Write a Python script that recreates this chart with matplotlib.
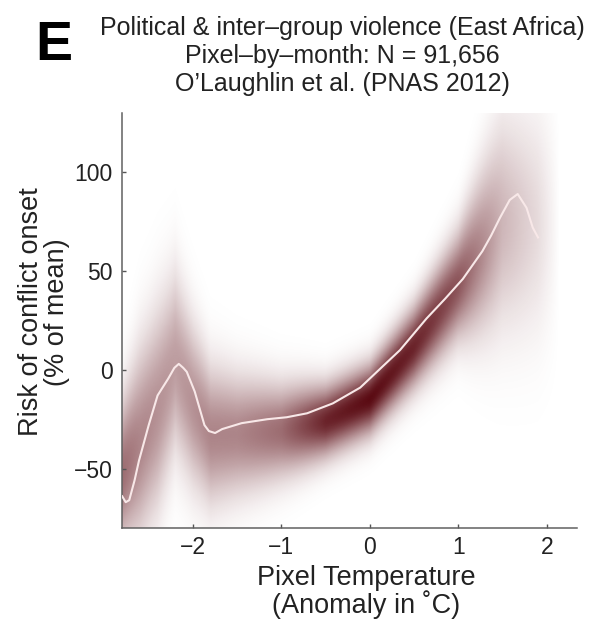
#imports
import numpy as np
import matplotlib
matplotlib.use("Agg")
import matplotlib.pyplot as plt

plt.rcParams['font.family'] = ['Liberation Sans', 'DejaVu Sans']

#data - white regression line
temp = [-2.80, -2.76, -2.72, -2.66, -2.61, -2.50, -2.40, -2.28, -2.21, -2.16,
        -2.11, -2.07, -1.98, -1.87, -1.82, -1.75, -1.67, -1.45, -1.16, -0.94,
        -0.71, -0.42, -0.11, 0.15, 0.34, 0.64, 0.85, 1.05, 1.16, 1.27, 1.37, 1.47, 1.58,
        1.67, 1.77, 1.84, 1.90]
risk = [-64, -67, -66, -56, -46, -28, -13, -4.5, 1, 3,
        1, -1, -11, -28, -31, -32, -30, -27, -25, -24,
        -22, -17, -9, 2, 10, 26, 36, 46, 53, 60, 68, 77, 86,
        89, 82, 72, 67]

#data - watercolor band: lower / upper edge of the shading and its darkness
band_x = [-2.8, -2.6, -2.4, -2.2, -2.0, -1.8, -1.5, -1.0, -0.5, 0.0, 0.5, 1.0, 1.5, 1.9, 2.05, 2.15]
band_lo = [-100, -100, -85, -55, -70, -78, -72, -62, -50, -38, -15, 8, 5, 0, 0, 0]
band_hi = [-5, 25, 45, 62, 35, 12, 6, 0, -2, 8, 38, 78, 145, 150, 150, 150]
band_ink = [0.6, 0.5, 0.45, 0.4, 0.45, 0.5, 0.5, 0.6, 0.9, 1.0, 0.9, 0.7, 0.3, 0.15, 0.06, 0.0]

xticks = [-2, -1, 0, 1, 2]
yticks = [-50, 0, 50, 100]
xlim = (-2.8, 2.34)
ylim = (-80, 130)

#figure
fig = plt.figure(figsize=(5.93, 6.21), dpi=100)
ax = fig.add_axes([0.206, 0.150, 0.767, 0.668])

# shading image built from the band arrays
gx = np.linspace(xlim[0], xlim[1], 700)
gy = np.linspace(ylim[0], ylim[1], 600)
lo = np.interp(gx, band_x, band_lo)
hi = np.interp(gx, band_x, band_hi)
ink = np.interp(gx, band_x, band_ink, right=0.0)
mid = (lo + hi) / 2
sig = (hi - lo) / 4
alpha = ink[None, :] * np.exp(-0.5 * ((gy[:, None] - mid[None, :]) / sig[None, :]) ** 2)
img = np.zeros((len(gy), len(gx), 4))
img[..., 0] = 90 / 255
img[..., 1] = 10 / 255
img[..., 2] = 18 / 255
img[..., 3] = np.clip(alpha, 0, 1)
ax.imshow(img, extent=[xlim[0], xlim[1], ylim[0], ylim[1]], origin='lower',
          aspect='auto', interpolation='bilinear', zorder=1)

ax.plot(temp, risk, color='#f8e8e8', lw=1.5, zorder=3)

ax.set_xlim(*xlim)
ax.set_ylim(*ylim)
ax.set_xticks(xticks)
ax.set_yticks(yticks)
ax.tick_params(direction='in', length=3, width=1, color='#555555',
               labelsize=16.5, labelcolor='#222222')
ax.tick_params(axis='x', pad=6)
ax.tick_params(axis='y', pad=7)
for s in ['top', 'right']:
    ax.spines[s].set_visible(False)
for s in ['left', 'bottom']:
    ax.spines[s].set_color('#606060')
    ax.spines[s].set_linewidth(1.1)

#texts
fig.text(342 / 593, 1 - 56 / 621,
         "Political & inter\u2013group violence (East Africa)\n"
         "Pixel\u2013by\u2013month: N = 91,656\n"
         "O\u2019Laughlin et al. (PNAS 2012)",
         ha='center', va='center', fontsize=18, linespacing=1.2, color='#222222')
fig.text(35 / 593, 1 - 60 / 621, "E", fontsize=40, fontweight='bold',
         ha='left', va='baseline')
fig.text(366 / 593, 1 - 592 / 621, "Pixel Temperature\n(Anomaly in \u02daC)",
         ha='center', va='center', fontsize=19.5, linespacing=1.0, color='#222222')
fig.text(44 / 593, 1 - 312 / 621, "Risk of conflict onset\n(% of mean)",
         ha='center', va='center', rotation=90, fontsize=19.5, linespacing=1.0,
         color='#222222')

plt.savefig('out.png', dpi=100)
